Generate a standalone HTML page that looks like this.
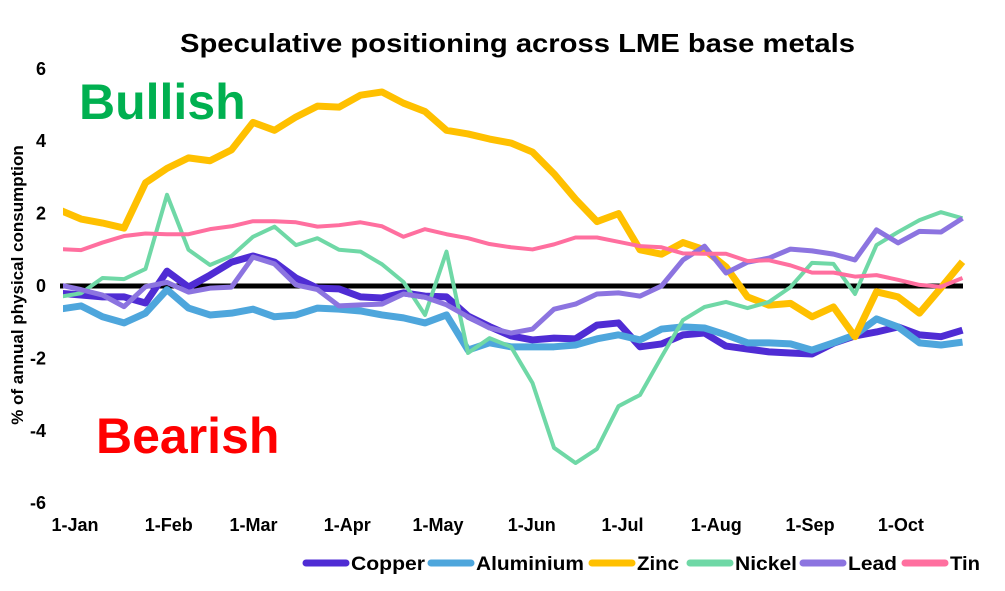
<!DOCTYPE html>
<html><head><meta charset="utf-8"><style>
body{margin:0;background:#fff;}
svg{display:block;font-family:"Liberation Sans",Arial,sans-serif;}
</style></head><body>
<svg id="chart" width="1005" height="591" viewBox="0 0 1005 591">
<text x="180" y="52" textLength="675" lengthAdjust="spacingAndGlyphs" font-size="26" font-weight="bold">Speculative positioning across LME base metals</text>
<text transform="translate(23,285) rotate(-90)" text-anchor="middle" font-size="17" font-weight="bold">% of annual physical consumption</text>
<text x="79" y="119" font-size="50" font-weight="bold" fill="#00B050">Bullish</text>
<text x="96" y="453" font-size="50" font-weight="bold" fill="#FF0000">Bearish</text>
<g id="yticks"></g><g id="xticks"></g>
<line x1="60" x2="963" y1="286" y2="286" stroke="#000" stroke-width="5"/>
<defs><clipPath id="pc"><rect x="63" y="55" width="910" height="460"/></clipPath></defs>
<g id="series" clip-path="url(#pc)"></g>
<g id="legend"></g>
</svg>
<script>
const categories = Array.from({length:43},(_,i)=>'W'+(i+1));
const copper=[-0.2,-0.25,-0.3,-0.3,-0.47,0.41,-0.03,0.3,0.66,0.83,0.66,0.22,-0.06,-0.08,-0.3,-0.33,-0.19,-0.28,-0.3,-0.83,-1.12,-1.38,-1.49,-1.44,-1.46,-1.08,-1.02,-1.68,-1.6,-1.35,-1.3,-1.66,-1.74,-1.82,-1.85,-1.88,-1.58,-1.38,-1.27,-1.13,-1.35,-1.4,-1.22];
const aluminium=[-0.64,-0.55,-0.85,-1.02,-0.75,-0.1,-0.61,-0.8,-0.75,-0.64,-0.85,-0.8,-0.61,-0.64,-0.69,-0.8,-0.88,-1.02,-0.8,-1.77,-1.57,-1.68,-1.68,-1.68,-1.63,-1.46,-1.35,-1.49,-1.19,-1.13,-1.16,-1.35,-1.57,-1.57,-1.6,-1.77,-1.57,-1.35,-0.91,-1.13,-1.57,-1.63,-1.55];
const zinc=[2.1,1.85,1.74,1.6,2.85,3.25,3.54,3.46,3.76,4.52,4.3,4.67,4.97,4.94,5.27,5.36,5.05,4.82,4.3,4.2,4.06,3.95,3.7,3.1,2.4,1.78,2.0,1.0,0.88,1.2,1.0,0.53,-0.3,-0.53,-0.48,-0.85,-0.58,-1.4,-0.16,-0.3,-0.75,-0.05,0.67];
const nickel=[-0.3,-0.2,0.22,0.19,0.47,2.52,1.0,0.58,0.83,1.36,1.64,1.13,1.32,1.0,0.95,0.6,0.11,-0.8,0.95,-1.85,-1.44,-1.68,-2.68,-4.47,-4.89,-4.5,-3.32,-3.01,-1.96,-0.94,-0.58,-0.44,-0.61,-0.44,-0.03,0.64,0.61,-0.22,1.13,1.49,1.82,2.04,1.87];
const lead=[0.03,-0.1,-0.25,-0.57,-0.02,0.1,-0.17,-0.06,-0.03,0.8,0.61,0.03,-0.1,-0.55,-0.52,-0.5,-0.22,-0.31,-0.52,-0.85,-1.16,-1.3,-1.19,-0.64,-0.5,-0.22,-0.19,-0.28,0.0,0.72,1.1,0.36,0.66,0.77,1.02,0.97,0.88,0.72,1.55,1.19,1.51,1.49,1.87];
const tin=[1.02,0.99,1.2,1.38,1.45,1.43,1.43,1.57,1.65,1.79,1.79,1.76,1.64,1.68,1.76,1.65,1.36,1.57,1.43,1.32,1.16,1.07,1.01,1.15,1.34,1.34,1.22,1.1,1.07,0.9,0.89,0.89,0.69,0.71,0.57,0.37,0.37,0.26,0.3,0.17,0.03,-0.02,0.22];
const yTicks=[-6,-4,-2,0,2,4,6];
const xTickLabels=['1-Jan','1-Feb','1-Mar','1-Apr','1-May','1-Jun','1-Jul','1-Aug','1-Sep','1-Oct'];
const xTickDays=[0,31,59,90,120,151,181,212,243,273];
const NS='http://www.w3.org/2000/svg';
const y=v=>286-36.2*v;
const xi=i=>59.5+21.5*i;
const xd=d=>75+3.025*d;
function mk(tag,attrs,parent){const e=document.createElementNS(NS,tag);for(const k in attrs)e.setAttribute(k,attrs[k]);parent.appendChild(e);return e;}
const yt=document.getElementById('yticks');
yTicks.forEach(t=>{const e=mk('text',{x:46,y:y(t)+6,'text-anchor':'end','font-size':18,'font-weight':'bold'},yt);e.textContent=t;

});
const xt=document.getElementById('xticks');
xTickLabels.forEach((t,i)=>{const e=mk('text',{x:xd(xTickDays[i]),y:531,'text-anchor':'middle','font-size':18,'font-weight':'bold'},xt);e.textContent=t;

});
const series=[['Copper',copper,'#4F2CD4',7],['Aluminium',aluminium,'#4EA6DC',7],['Zinc',zinc,'#FFC000',7],['Nickel',nickel,'#6FD8A6',4],['Lead',lead,'#8C74E0',5],['Tin',tin,'#FF6F9F',4]];
const sg=document.getElementById('series');
series.forEach(([n,d,c,w])=>{const p=mk('polyline',{points:d.map((v,i)=>xi(i)+','+y(v)).join(' '),fill:'none',stroke:c,'stroke-width':w,'stroke-linejoin':'round'},sg);

});
const lg=document.getElementById('legend');
const lx=[303,428,589,687,800,902];
const tw=[74,108,42,62,49,30];
series.forEach(([n,d,c,w],i)=>{const g=mk('g',{},lg);


mk('line',{x1:lx[i]+3,x2:lx[i]+43,y1:563,y2:563,stroke:c,'stroke-width':7,'stroke-linecap':'round'},g);
const t=mk('text',{x:lx[i]+48,y:570,'font-size':19,'font-weight':'bold',textLength:tw[i],lengthAdjust:'spacingAndGlyphs'},g);t.textContent=n;});
</script>
</body></html>
